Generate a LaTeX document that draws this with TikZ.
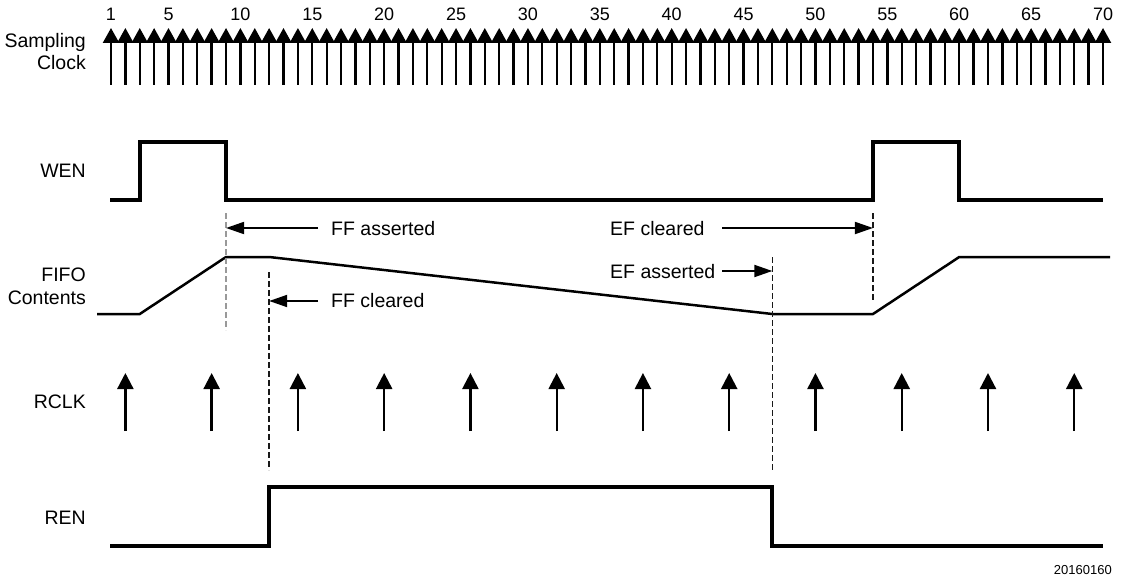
\documentclass[tikz,border=0pt]{standalone}
\usepackage{fontspec}
\setmainfont{Liberation Sans}
\usetikzlibrary{arrows.meta}
\newcommand\tx[1]{\fpeval{111+(#1-1)*14.3768}}
\begin{document}
\begin{tikzpicture}[x=1pt,y=-1pt,
  lbl/.style={anchor=base east,inner sep=0pt,font=\fontsize{19.5}{22}\selectfont},
  note/.style={anchor=base west,inner sep=0pt,font=\fontsize{19.5}{22}\selectfont},
  num/.style={anchor=base,inner sep=0pt,font=\fontsize{18}{20}\selectfont},
  sclk/.style={line width=2.3pt,-{Triangle[width=16pt,length=15pt]}},
  rclk/.style={line width=2.3pt,-{Triangle[width=16pt,length=16pt]}},
  wave/.style={line width=4pt,line join=miter},
  fifo/.style={line width=2.5pt,line join=miter},
  pointer/.style={line width=1.8pt,-{Triangle[width=12pt,length=18pt]}},
  guide/.style={line width=1.5pt,dash pattern=on 6pt off 3pt,black!90},
  guidelight/.style={line width=1.3pt,dash pattern=on 6pt off 3pt,black!40}]
\useasboundingbox (0,0) rectangle (1126,580);

% sampling clock
\foreach \k in {1,...,70} {\draw[sclk] (\tx{\k},85) -- (\tx{\k},28);}
\foreach \k in {1,5,10,...,70} {\node[num] (n\k) at (\tx{\k},21) {\k};}

% labels
\node[lbl] (ls) at (86,48) {Sampling};
\node[lbl] (lc) at (86,70) {Clock};
\node[lbl] (lw) at (86,177.7) {WEN};
\node[lbl] (lf) at (86,281) {FIFO};
\node[lbl] (lf2) at (86,304) {Contents};
\node[lbl] (lr) at (86,408) {RCLK};
\node[lbl] (lren) at (86,524) {REN};

% WEN
\draw[wave] (110,200) -- (\tx{3},200) -- (\tx{3},142) -- (\tx{9},142) -- (\tx{9},200)
  -- (\tx{54},200) -- (\tx{54},142) -- (\tx{60},142) -- (\tx{60},200) -- (1103,200);

% FIFO contents
\draw[fifo] (97,314) -- (\tx{3},314) -- (\tx{9},257) -- (\tx{12},257) -- (\tx{47},314)
  -- (\tx{54},314) -- (\tx{60},257) -- (1110,257);

% guides
\draw[guidelight] (\tx{9},213) -- (\tx{9},330);
\draw[guide] (\tx{12},272) -- (\tx{12},470);
\draw[guide] (\tx{47},257) -- (\tx{47},472);
\draw[guide] (\tx{54},213) -- (\tx{54},300);

% annotations
\node[note] (ffa) at (331,235) {FF asserted};
\node[note] (ffc) at (331,307) {FF cleared};
\node[note] (efc) at (610,235) {EF cleared};
\node[note] (efa) at (610,278) {EF asserted};
\coordinate (ffaT) at (\tx{9},228);
\coordinate (ffcT) at (\tx{12},301);
\coordinate (efcT) at (\tx{54},228);
\coordinate (efaT) at (\tx{47},271);
\draw[pointer] (318,228) -- (ffaT);
\draw[pointer] (318,301) -- (ffcT);
\draw[pointer] (722,228) -- (efcT);
\draw[pointer] (722,271) -- (efaT);

% RCLK
\foreach \k in {2,8,...,68} {\draw[rclk] (\tx{\k},431) -- (\tx{\k},373);}

% REN
\draw[wave] (110,546) -- (\tx{12},546) -- (\tx{12},487) -- (\tx{47},487) -- (\tx{47},546) -- (1103,546);

\node[anchor=base east,inner sep=0pt,font=\fontsize{13}{15}\selectfont] (id) at (1112,574.7) {20160160};
\end{tikzpicture}
\end{document}
